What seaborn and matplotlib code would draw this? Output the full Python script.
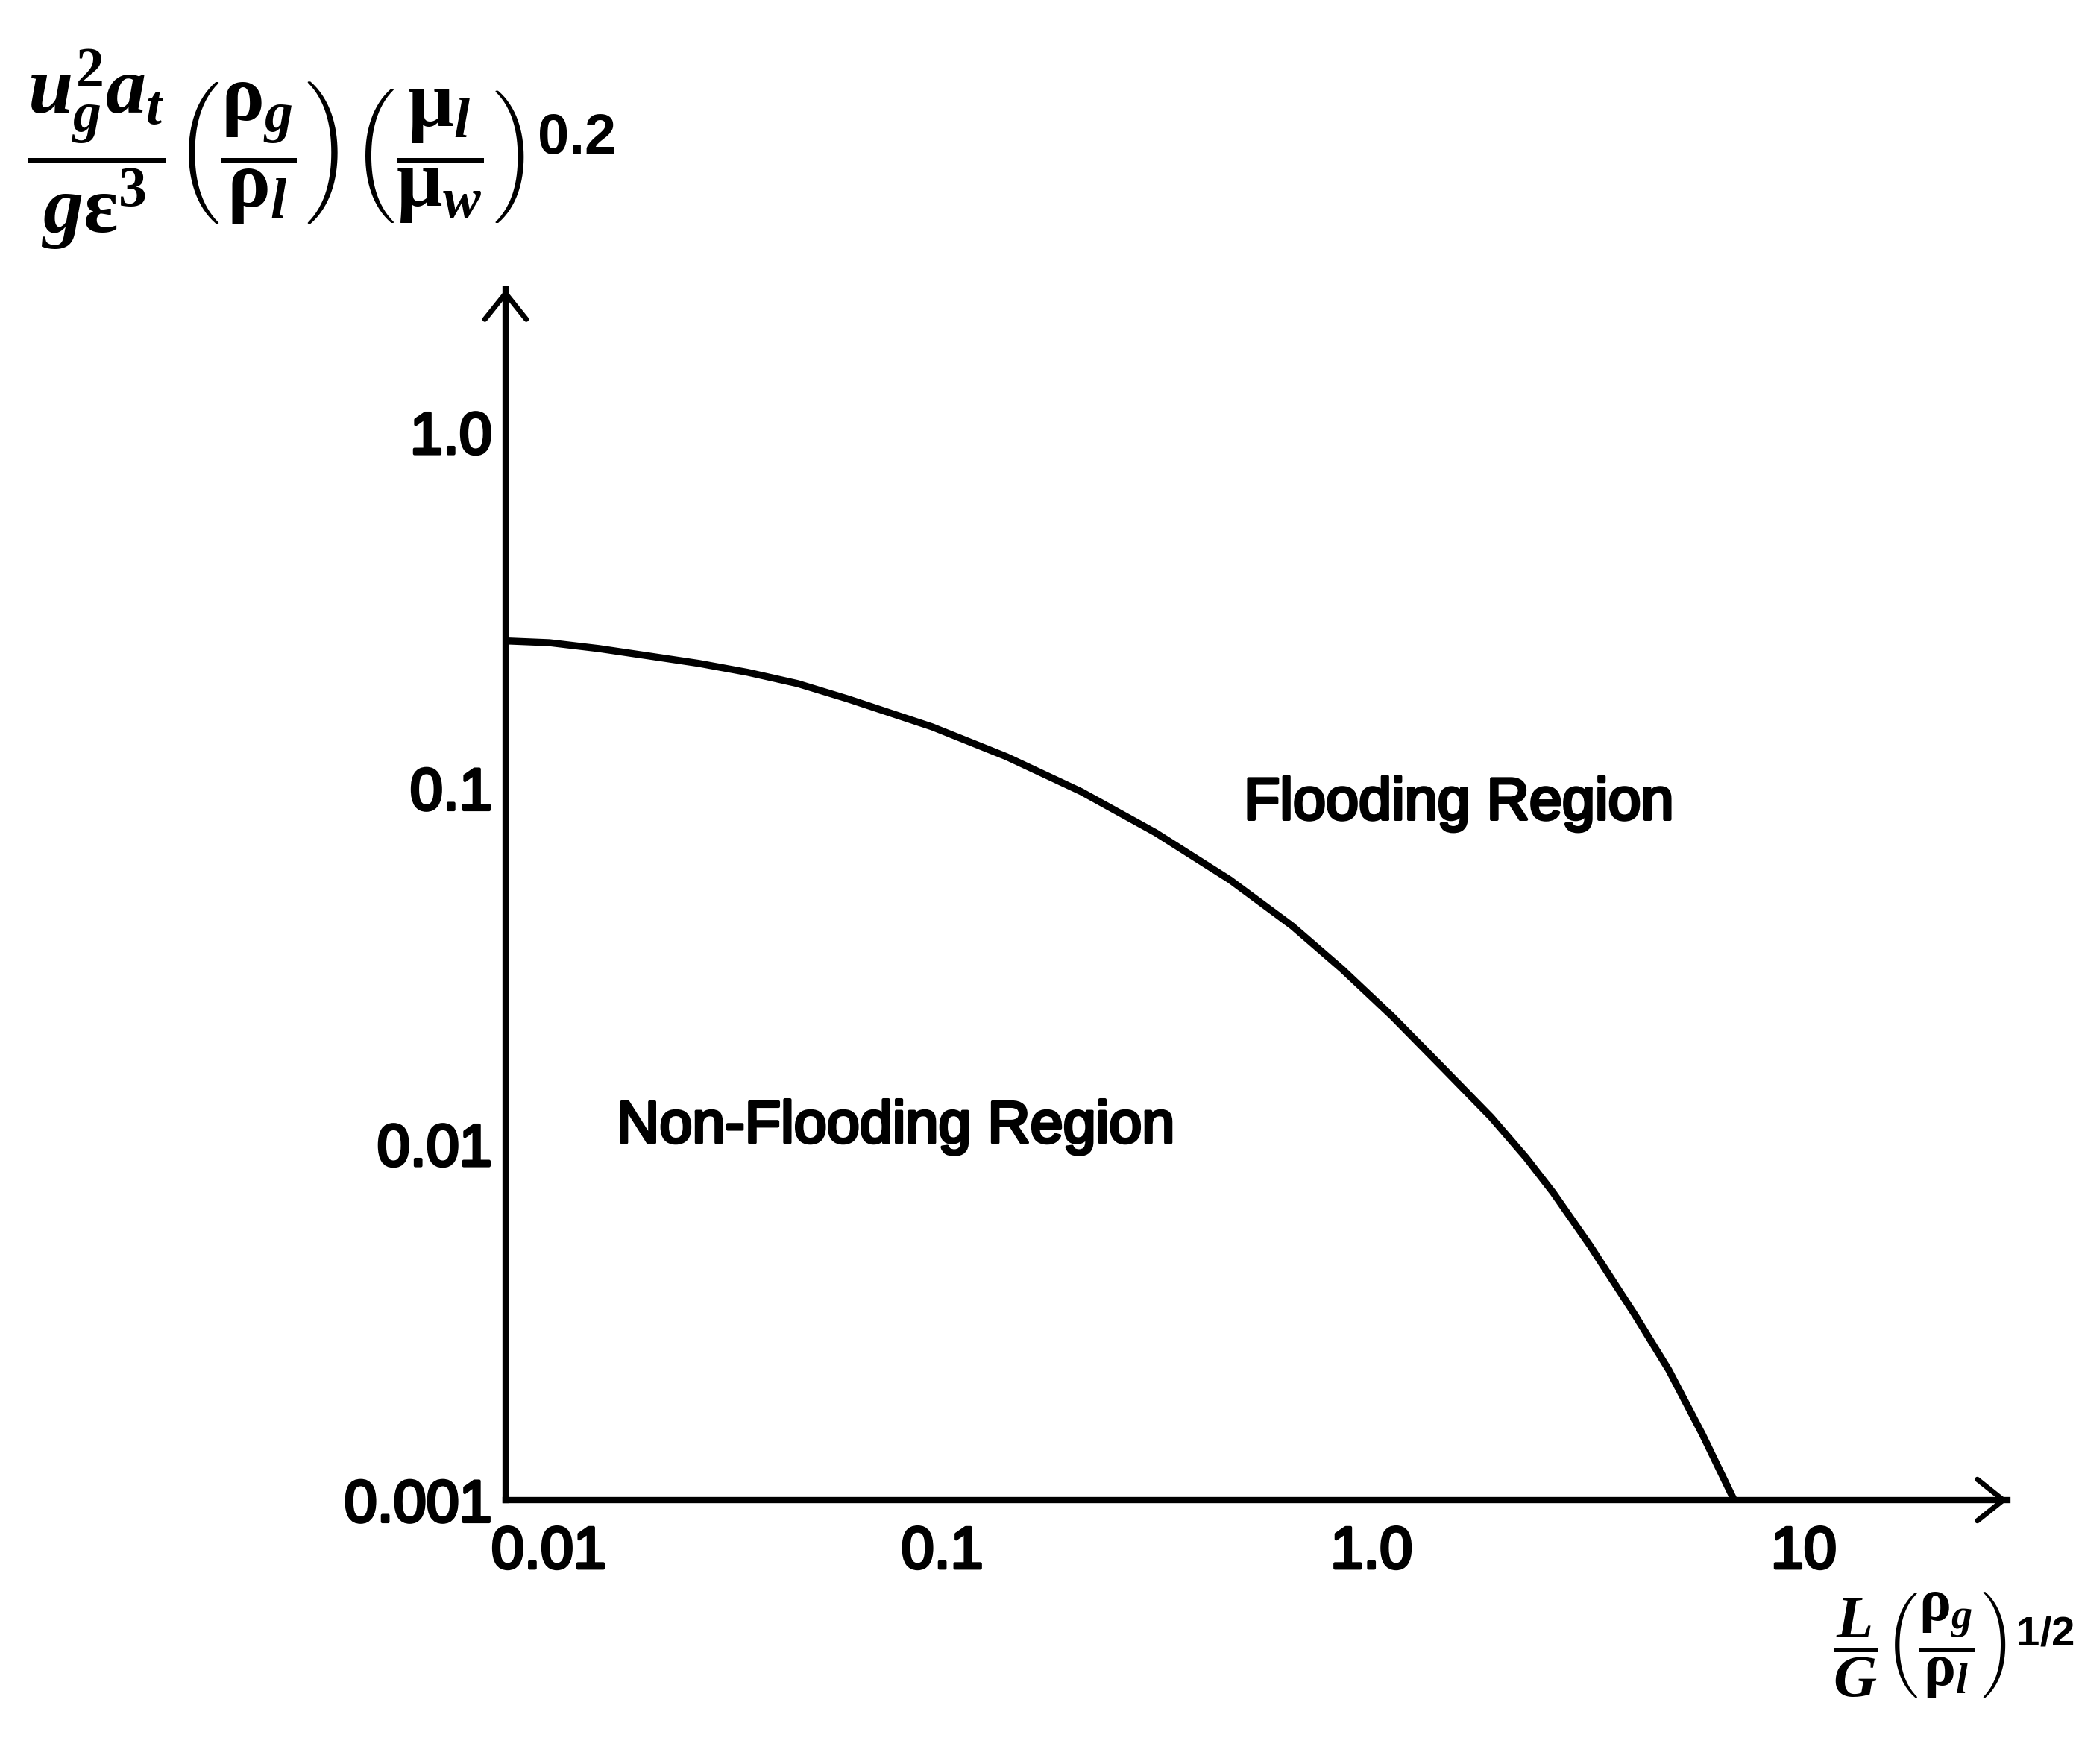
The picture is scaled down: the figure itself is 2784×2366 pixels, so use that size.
import matplotlib
matplotlib.use("Agg")
import matplotlib.pyplot as plt
import matplotlib.patheffects as pe
from matplotlib.patches import ArrowStyle
from matplotlib.transforms import ScaledTranslation
import seaborn as sns

# Flooding limit curve for a packed column (generalised correlation)
flow_param = [0.01, 0.01267, 0.01652, 0.02163, 0.02827, 0.03686, 0.0482, 0.0631,
              0.0993, 0.1483, 0.2217, 0.331, 0.494, 0.690, 0.903, 1.182, 1.540,
              2.014, 2.432, 2.811, 3.436, 4.37, 5.24, 6.28, 7.45]
capacity = [0.259, 0.256, 0.2465, 0.235, 0.224, 0.2113, 0.1965, 0.178,
            0.1486, 0.1225, 0.0977, 0.0749, 0.0552, 0.0410, 0.0310, 0.02286,
            0.01655, 0.0119, 0.00915, 0.00731, 0.00517, 0.00331, 0.00232,
            0.00153, 0.001]

x_ticks = [0.01, 0.1, 1.0, 10.0]
x_tick_labels = ["0.01", "0.1", "1.0", "10"]
y_ticks = [0.001, 0.01, 0.1, 1.0]
y_tick_labels = ["0.001", "0.01", "0.1", "1.0"]

sns.set_theme(style="white")
plt.rcParams["font.family"] = ["Liberation Sans", "DejaVu Sans"]
plt.rcParams["mathtext.fontset"] = "custom"
plt.rcParams["mathtext.rm"] = "Liberation Serif:bold"
plt.rcParams["mathtext.it"] = "Liberation Serif:italic:bold"
plt.rcParams["mathtext.bf"] = "Liberation Serif:bold"
plt.rcParams["mathtext.sf"] = "Liberation Sans:bold"

W, H = 2784, 2366
fig = plt.figure(figsize=(W / 100, H / 100), dpi=100)
fig.patch.set_facecolor("white")

# axes box in pixels: origin (678, 2012), x arrow tip 2692, y arrow tip 388
x0, y0, x1, y1 = 678, 2012, 2692, 388
ax = fig.add_axes([x0 / W, 1 - y0 / H, (x1 - x0) / W, (y0 - y1) / H])
ax.set_facecolor("white")

sns.lineplot(x=flow_param, y=capacity, ax=ax, color="black", linewidth=6.8,
             sort=False, estimator=None)

ax.set_xscale("log")
ax.set_yscale("log")
ax.set_xlim(0.01, 10 ** 1.511)
ax.set_ylim(0.001, 10 ** (-3 + (y0 - y1) / 477.5))
ax.minorticks_off()
ax.set_xticks(x_ticks)
ax.set_xticklabels(x_tick_labels)
ax.set_yticks(y_ticks)
ax.set_yticklabels(y_tick_labels)
ax.set_xlabel("")
ax.set_ylabel("")

stroke = [pe.withStroke(linewidth=3.0, foreground="black")]
ax.tick_params(axis="both", which="major", direction="in", length=18, width=3,
               color="black", labelsize=57, labelcolor="black")
ax.tick_params(axis="x", pad=24)
ax.tick_params(axis="y", pad=13)
for lab in ax.get_xticklabels() + ax.get_yticklabels():
    lab.set_path_effects(stroke)

# nudge x tick labels slightly to the right
offsets = [0.58, 0.12, 0.14, 0.2]
for lab, dx in zip(ax.get_xticklabels(), offsets):
    lab.set_transform(lab.get_transform() + ScaledTranslation(dx, 0, fig.dpi_scale_trans))

for side in ["top", "right"]:
    ax.spines[side].set_visible(False)
for side in ["left", "bottom"]:
    ax.spines[side].set_linewidth(6)
    ax.spines[side].set_color("black")

head = ArrowStyle("->", head_length=0.5, head_width=0.4)
for tip, tail in [((1, 0), (0.95, 0)), ((0, 1), (0, 0.95))]:
    ax.annotate("", xy=tip, xytext=tail, xycoords="axes fraction",
                annotation_clip=False,
                arrowprops=dict(arrowstyle=head, lw=5, color="black",
                                mutation_scale=50, shrinkA=0, shrinkB=0))

ax.text(0.532, 0.0817, "Flooding Region", fontsize=57, ha="left",
        va="baseline", color="black", path_effects=stroke)
ax.text(0.0182, 0.0101, "Non-Flooding Region", fontsize=57, ha="left",
        va="baseline", color="black", path_effects=stroke)

ylab = (r"$\dfrac{u_g^{2}a_t}{g\mathrm{\varepsilon}^{3}}"
        r"\left(\dfrac{\mathrm{\rho}_g}{\mathrm{\rho}_l}\right)"
        r"\left(\dfrac{\mathrm{\mu}_l}{\mathrm{\mu}_w}\right)^{\mathsf{0.2}}$")
fig.text(37 / W, 1 - 64 / H, ylab, fontsize=78, ha="left", va="top", color="black")

xlab = (r"$\dfrac{L}{G}\left(\dfrac{\mathrm{\rho}_g}{\mathrm{\rho}_l}\right)"
        r"^{\mathsf{1/2}}$")
fig.text(2782 / W, 1 - 2133 / H, xlab, fontsize=58, ha="right", va="top", color="black")

fig.savefig("out.png", dpi=100, facecolor="white")
